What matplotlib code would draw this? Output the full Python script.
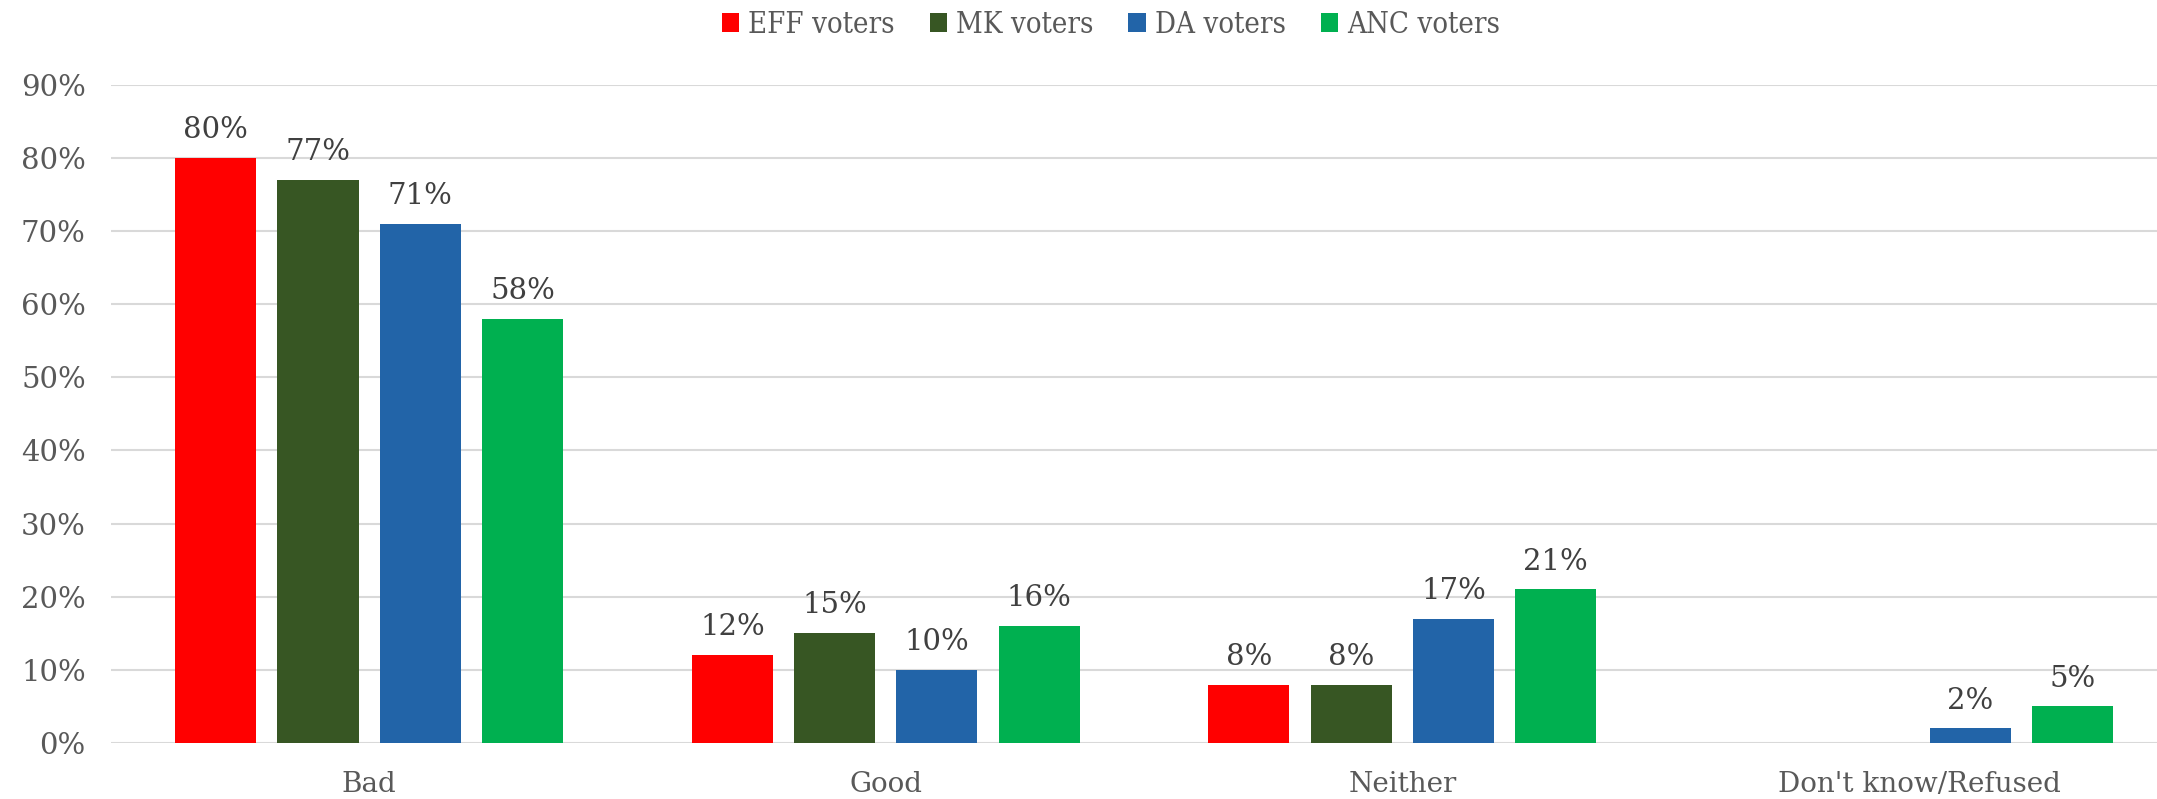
import numpy as np
import matplotlib
matplotlib.use("Agg")
import matplotlib.pyplot as plt

categories = ["Bad", "Good", "Neither", "Don't know/Refused"]
series = ["EFF voters", "MK voters", "DA voters", "ANC voters"]
eff = [80, 12, 8, np.nan]
mk = [77, 15, 8, np.nan]
da = [71, 10, 17, 2]
anc = [58, 16, 21, 5]
colors = ["#FF0000", "#375623", "#2264A8", "#00B050"]

plt.rcParams["font.family"] = ["DejaVu Serif"]

fig = plt.figure(figsize=(21.57, 7.99), dpi=100)
ax = fig.add_axes([0.0514, 0.070, 0.958, 0.824])

x = np.arange(len(categories))
pitch = 0.198
width = 0.157
for i, (name, vals) in enumerate(zip(series, [eff, mk, da, anc])):
    pos = x + (i - 1.5) * pitch
    ax.bar(pos, vals, width, color=colors[i], label=name, zorder=3)
    for p, v in zip(pos, vals):
        if np.isnan(v):
            continue
        ax.text(p, v + 1.9, f"{v:.0f}%", ha="center", va="bottom",
                fontsize=21, color="#404040")

ax.set_xlim(-0.5, 3.5)
ax.set_ylim(0, 90)
ax.set_yticks(np.arange(0, 91, 10))
ax.set_yticklabels([f"{t}%" for t in range(0, 91, 10)])
ax.set_xticks(x)
ax.set_xticklabels(categories)
ax.tick_params(axis="both", length=0, labelcolor="#595959")
ax.tick_params(axis="y", pad=18, labelsize=21)
ax.tick_params(axis="x", pad=20, labelsize=20)
ax.grid(axis="y", color="#D9D9D9", linewidth=1.5, zorder=0)
for s in ax.spines.values():
    s.set_visible(False)

fig.legend(loc="center", bbox_to_anchor=(0.515, 0.969), ncol=4, frameon=False,
           handlelength=0.6, handleheight=0.6, handletextpad=0.3,
           columnspacing=1.2, prop={"size": 21, "stretch": "condensed"},
           labelcolor="#595959")

fig.savefig("out.png", dpi=100)
